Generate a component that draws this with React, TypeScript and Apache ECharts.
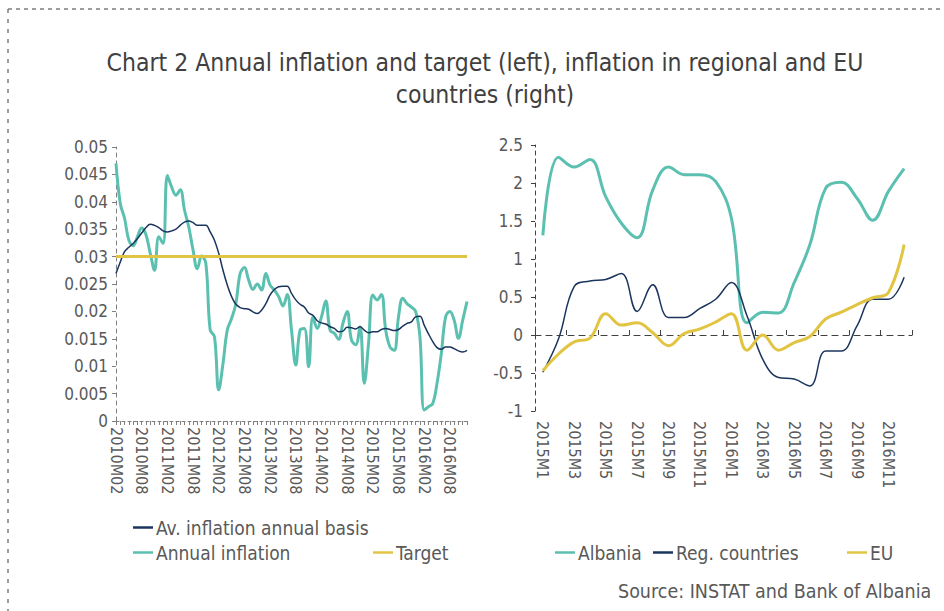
import React, { useEffect, useRef } from "react";
import * as echarts from "echarts";

// ---------- DATA ----------
const leftCategories: string[] = [];
for (let y = 2010; y <= 2016; y++) {
  for (let m = 1; m <= 12; m++) {
    if (y === 2010 && m < 2) continue;
    leftCategories.push(`${y}M${String(m).padStart(2, "0")}`);
  }
}

const avInflation = [
  0.0269, 0.029, 0.0309, 0.0317, 0.0324, 0.0333, 0.0343, 0.0353, 0.0359, 0.0357,
  0.0353, 0.0347, 0.0345, 0.0347, 0.035, 0.0357, 0.0363, 0.0365, 0.0362, 0.0357,
  0.0357, 0.0357, 0.0345, 0.033, 0.0306, 0.0275, 0.0248, 0.0227, 0.0213, 0.0207,
  0.0205, 0.0204, 0.0199, 0.0196, 0.0202, 0.0214, 0.023, 0.024, 0.0245, 0.0246,
  0.0246, 0.0233, 0.0221, 0.0213, 0.0208, 0.0197, 0.0193, 0.0183, 0.0179, 0.0177,
  0.0172, 0.0169, 0.0163, 0.0164, 0.0171, 0.017, 0.0168, 0.0172, 0.0166, 0.0161,
  0.0163, 0.0163, 0.0167, 0.0169, 0.0167, 0.0165, 0.0167, 0.0173, 0.0178, 0.0181,
  0.019, 0.0191, 0.0175, 0.0159, 0.0145, 0.0134, 0.0131, 0.0135, 0.0135, 0.0132,
  0.0128, 0.0126, 0.0129,
];

const annualInflation = [
  0.047, 0.0397, 0.037, 0.033, 0.032, 0.0336, 0.0352, 0.034, 0.0306, 0.0275,
  0.0336, 0.0324, 0.0448, 0.0427, 0.0412, 0.0422, 0.0385, 0.0354, 0.0312, 0.0278,
  0.0301, 0.0287, 0.0166, 0.0154, 0.0057, 0.0105, 0.0166, 0.0187, 0.0214, 0.0269,
  0.028, 0.0257, 0.024, 0.025, 0.0239, 0.0269, 0.0248, 0.0239, 0.0227, 0.021,
  0.0231, 0.0166, 0.0102, 0.0166, 0.0169, 0.0099, 0.019, 0.0169, 0.019, 0.0219,
  0.0166, 0.016, 0.0149, 0.0178, 0.02, 0.0148, 0.0139, 0.0172, 0.0069, 0.0142,
  0.023, 0.0221, 0.0231, 0.0166, 0.0135, 0.0129, 0.019, 0.0224, 0.0214, 0.0208,
  0.02, 0.0154, 0.002, 0.0026, 0.0032, 0.0069, 0.0123, 0.019, 0.02, 0.0184,
  0.0151, 0.0184, 0.0218,
];

const TARGET = 0.03;
const target = leftCategories.map(() => TARGET);

const rightCategories = [
  "2015M1", "2015M2", "2015M3", "2015M4", "2015M5", "2015M6",
  "2015M7", "2015M8", "2015M9", "2015M10", "2015M11", "2015M12",
  "2016M1", "2016M2", "2016M3", "2016M4", "2016M5", "2016M6",
  "2016M7", "2016M8", "2016M9", "2016M10", "2016M11", "2016M12",
];

const albania = [
  1.31, 2.34, 2.21, 2.31, 1.82, 1.47, 1.28, 1.91, 2.21, 2.11, 2.11, 2.02,
  1.54, 0.16, 0.3, 0.29, 0.69, 1.19, 1.93, 2.01, 1.8, 1.51, 1.89, 2.19,
];

const regCountries = [
  -0.49, -0.05, 0.64, 0.71, 0.73, 0.81, 0.31, 0.66, 0.23, 0.23, 0.35, 0.47,
  0.69, 0.25, -0.32, -0.56, -0.58, -0.67, -0.21, -0.21, 0.12, 0.47, 0.47, 0.76,
];

const eu = [
  -0.47, -0.25, -0.09, -0.04, 0.28, 0.13, 0.16, 0.03, -0.14, 0.02, 0.08, 0.17,
  0.28, -0.2, 0.0, -0.2, -0.1, -0.02, 0.21, 0.3, 0.4, 0.49, 0.56, 1.19,
];

// ---------- STYLE ----------
const FONT = "'Liberation Sans Narrow', 'DejaVu Sans Condensed', sans-serif";
const TEAL = "#5BC0B0";
const NAVY = "#1C355E";
const YELLOW = "#E2C443";
const TEXT = "#595959";
const AXIS = "#7F7F7F";

export default function App() {
  const ref = useRef<HTMLDivElement>(null);

  useEffect(() => {
    if (!ref.current) return;
    const chart = echarts.init(ref.current, undefined, { renderer: "svg" });

    const legendItem = (name: string, left: number, top: number) => ({
      data: [name],
      left,
      top,
      icon: "rect",
      itemWidth: 20,
      itemHeight: 2.5,
      padding: 0,
      textStyle: { fontFamily: FONT, fontSize: 19, color: TEXT, padding: [0, 0, 0, -2] },
      selectedMode: false,
    });

    const option: any = {
      animation: false,
      backgroundColor: "#ffffff",
      title: {
        text: "Chart 2 Annual inflation and target (left), inflation in regional and EU\ncountries (right)",
        left: 480,
        top: 41,
        textAlign: "center",
        textStyle: {
          fontFamily: FONT,
          fontSize: 24.5,
          fontWeight: "normal",
          color: "#404040",
          lineHeight: 32,
        },
      },
      legend: [
        legendItem("Av. inflation annual basis", 133, 518),
        legendItem("Annual inflation", 133, 543),
        legendItem("Target", 373, 543),
        legendItem("Albania", 555, 543),
        legendItem("Reg. countries", 653, 543),
        legendItem("EU", 847, 543),
      ],
      grid: [
        { left: 116, top: 147, width: 351, height: 274 },
        { left: 535, top: 145, width: 377, height: 266 },
      ],
      xAxis: [
        {
          type: "category",
          gridIndex: 0,
          data: leftCategories,
          boundaryGap: false,
          axisLine: { lineStyle: { color: AXIS, type: [3, 3], width: 1 } },
          axisTick: { interval: 0, length: 4, lineStyle: { color: AXIS } },
          axisLabel: {
            interval: 5,
            rotate: -90,
            fontFamily: FONT,
            fontSize: 16,
            color: TEXT,
            margin: 6,
          },
          splitLine: { show: false },
        },
        {
          type: "category",
          gridIndex: 1,
          data: rightCategories,
          boundaryGap: true,
          position: "bottom",
          axisLine: { show: false, onZero: false },
          axisTick: { show: false },
          axisLabel: {
            interval: 1,
            rotate: -90,
            fontFamily: FONT,
            fontSize: 16,
            color: TEXT,
            margin: 10,
          },
          splitLine: { show: false },
        },
        {
          type: "category",
          gridIndex: 1,
          data: rightCategories,
          boundaryGap: true,
          axisLine: { show: true, onZero: true, lineStyle: { color: "#404040", type: [6, 5], width: 1.2 } },
          axisTick: { show: true, interval: 1, length: 5, lineStyle: { color: "#404040" } },
          axisLabel: { show: false },
          splitLine: { show: false },
        },
      ],
      yAxis: [
        {
          type: "value",
          gridIndex: 0,
          min: 0,
          max: 0.05,
          interval: 0.005,
          axisLine: { show: true, lineStyle: { color: AXIS, type: [4, 4], width: 1 } },
          axisTick: { show: true, length: 4, lineStyle: { color: AXIS } },
          axisLabel: { fontFamily: FONT, fontSize: 17, color: TEXT, margin: 8 },
          splitLine: { show: false },
        },
        {
          type: "value",
          gridIndex: 1,
          min: -1,
          max: 2.5,
          interval: 0.5,
          axisLine: { show: true, lineStyle: { color: "#404040", type: [4, 4], width: 1 } },
          axisTick: { show: true, length: 4, lineStyle: { color: "#404040" } },
          axisLabel: { fontFamily: FONT, fontSize: 17, color: TEXT, margin: 12 },
          splitLine: { show: false },
        },
      ],
      series: [
        {
          name: "Annual inflation",
          type: "line",
          xAxisIndex: 0,
          yAxisIndex: 0,
          data: annualInflation,
          smooth: 0.4,
          symbol: "none",
          lineStyle: { color: TEAL, width: 3 },
          itemStyle: { color: TEAL },
        },
        {
          name: "Av. inflation annual basis",
          type: "line",
          xAxisIndex: 0,
          yAxisIndex: 0,
          data: avInflation,
          smooth: 0.4,
          symbol: "none",
          lineStyle: { color: NAVY, width: 1.5 },
          itemStyle: { color: NAVY },
        },
        {
          name: "Target",
          type: "line",
          xAxisIndex: 0,
          yAxisIndex: 0,
          data: target,
          symbol: "none",
          lineStyle: { color: YELLOW, width: 3 },
          itemStyle: { color: YELLOW },
        },
        {
          name: "Albania",
          type: "line",
          xAxisIndex: 1,
          yAxisIndex: 1,
          data: albania,
          smooth: 0.4,
          symbol: "none",
          lineStyle: { color: TEAL, width: 3 },
          itemStyle: { color: TEAL },
        },
        {
          name: "Reg. countries",
          type: "line",
          xAxisIndex: 1,
          yAxisIndex: 1,
          data: regCountries,
          smooth: 0.4,
          symbol: "none",
          lineStyle: { color: NAVY, width: 1.5 },
          itemStyle: { color: NAVY },
        },
        {
          name: "EU",
          type: "line",
          xAxisIndex: 1,
          yAxisIndex: 1,
          data: eu,
          smooth: 0.4,
          symbol: "none",
          lineStyle: { color: YELLOW, width: 3 },
          itemStyle: { color: YELLOW },
        },
      ],
      graphic: [
        {
          type: "line",
          shape: { x1: 8, y1: 9, x2: 944, y2: 9 },
          style: { stroke: AXIS, lineWidth: 1.5, lineDash: [4, 4] },
          silent: true,
        },
        {
          type: "line",
          shape: { x1: 8, y1: 9, x2: 8, y2: 611 },
          style: { stroke: AXIS, lineWidth: 1.5, lineDash: [4, 6] },
          silent: true,
        },
        {
          type: "text",
          left: 618,
          top: 581,
          style: {
            text: "Source: INSTAT and Bank of Albania",
            fontFamily: FONT,
            fontSize: 19.5,
            fill: TEXT,
          },
        },
      ],
    };

    chart.setOption(option);
    return () => chart.dispose();
  }, []);

  return (
    <div
      ref={ref}
      style={{ position: "fixed", left: 0, top: 0, width: 944, height: 611 }}
    />
  );
}
